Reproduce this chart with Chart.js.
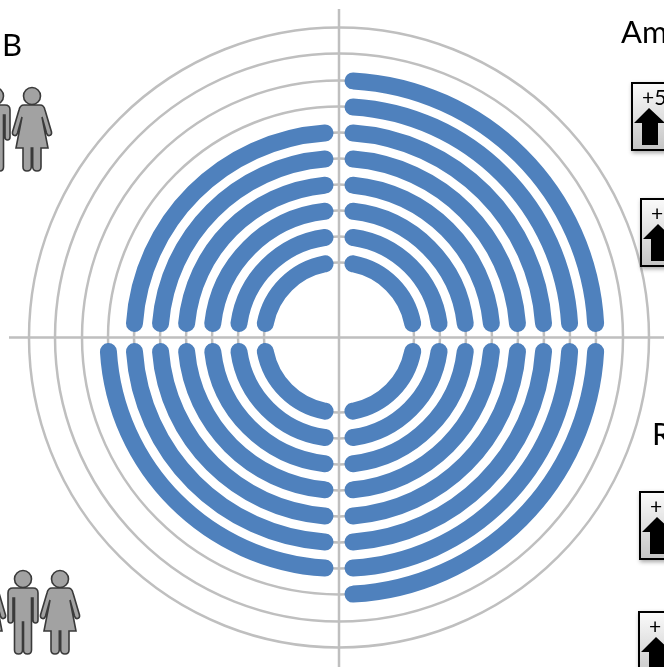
<!DOCTYPE html>
<html>
<head>
<meta charset="utf-8">
<script src="https://cdn.jsdelivr.net/npm/chart.js@4"></script>
<style>
  html, body { margin: 0; padding: 0; background: #fff; overflow: hidden; }
  #wrap { position: relative; width: 664px; height: 667px; overflow: hidden; }
  canvas, svg { position: absolute; left: 0; top: 0; }
  text { font-family: Lato, sans-serif; fill: #000; }
  .label { font-size: 31px; }
  .plus { font-size: 21px; }
  .person { fill: #a2a2a2; stroke: #3a3a3a; stroke-width: 1.6; }
</style>
</head>
<body>
<div id="wrap">
  <canvas id="rings" width="664" height="667"></canvas>
  <svg width="664" height="667" viewBox="0 0 664 667">
    <defs>
      <linearGradient id="keyFill" x1="0" y1="0" x2="0" y2="1">
        <stop offset="0" stop-color="#fbfbfb"/>
        <stop offset="1" stop-color="#c4c4c4"/>
      </linearGradient>
      <filter id="keyShadow" x="-20%" y="-20%" width="140%" height="140%">
        <feDropShadow dx="1" dy="2" stdDeviation="2" flood-color="#000" flood-opacity="0.35"/>
      </filter>
      <g id="man" class="person">
        <circle cx="0" cy="9" r="8.5"/>
        <path d="M-10 18 H10 Q15 18 15 23 V50 Q15 53 12.5 53 Q10 53 10 50 V28 L8.5 28 V80 Q8.5 84 4.5 84 Q0.5 84 0.5 80 V52 H-0.5 V80 Q-0.5 84 -4.5 84 Q-8.5 84 -8.5 80 V28 L-10 28 V50 Q-10 53 -12.5 53 Q-15 53 -15 50 V23 Q-15 18 -10 18Z"/>
      </g>
      <g id="woman" class="person">
        <circle cx="0" cy="9" r="8.5"/>
        <path d="M-8 18 H8 Q12 18 13 23 L19.5 45 Q20 48 17.5 48.5 Q15.5 49 14.5 46 L10 30 L16 61 H9 V80 Q9 84 5 84 Q1 84 0.7 80 V61 H-0.7 V80 Q-1 84 -5 84 Q-9 84 -9 80 V61 H-16 L-10 30 L-14.5 46 Q-15.5 49 -17.5 48.5 Q-20 48 -19.5 45 L-13 23 Q-12 18 -8 18Z"/>
      </g>
      <g id="key">
        <rect x="1" y="1" width="70" height="67" fill="url(#keyFill)" stroke="#000" stroke-width="2" filter="url(#keyShadow)"/>
        <path d="M18 26 L34 41 H27 V63 H11 V41 H3 Z" fill="#000"/>
      </g>
    </defs>

    <text class="label" x="2" y="56">B</text>
    <text class="label" x="621" y="43">Am</text>
    <text class="label" x="652" y="445">R</text>

    <use href="#man" x="-5" y="87"/>
    <use href="#woman" x="32" y="87"/>
    <use href="#woman" x="-14" y="570"/>
    <use href="#man" x="23" y="570"/>
    <use href="#woman" x="60" y="570"/>

    <use href="#key" x="631" y="82"/>
    <text class="plus" x="642" y="105">+5</text>
    <use href="#key" x="640" y="198"/>
    <text class="plus" x="651" y="221">+</text>
    <use href="#key" x="639" y="491"/>
    <text class="plus" x="650" y="514">+</text>
    <use href="#key" x="638" y="611"/>
    <text class="plus" x="649" y="634">+</text>
  </svg>
</div>

<script>
console.log('main loaded');

// ring radii in px, outer ring first
const ringRadius = [310, 284, 257, 231, 205, 179, 153, 127, 101, 75];
const ringWidth = 17;

// gap between the axis and the tip of an arc, in degrees (bigger on small rings)
const axisGap = [1.02, 1.11, 1.23, 1.37, 1.54, 1.77, 2.07, 2.48, 3.12, 4.2];

// arc length in degrees per quadrant, outer ring first, 0 = no arc on that ring
const topRight =    [0, 0, 87.54, 87.26, 86.92, 86.46, 85.86, 85.04, 83.76, 81.6];
const bottomRight = [0, 0, 87.54, 87.26, 86.92, 86.46, 85.86, 85.04, 83.76, 81.6];
const bottomLeft =  [0, 0, 0, 87.26, 86.92, 86.46, 85.86, 85.04, 83.76, 81.6];
const topLeft =     [0, 0, 0, 0, 86.92, 86.46, 85.86, 85.04, 83.76, 81.6];

const blue = '#4f81bd';
const grey = '#bfbfbf';
const none = 'rgba(0,0,0,0)';

const datasets = [];
ringRadius.forEach(function(radius, i) {
    const data = [];
    const colors = [];
    // clockwise from 12 o'clock
    [topRight, bottomRight, bottomLeft, topLeft].forEach(function(quadrant) {
        const arc = quadrant[i];
        data.push(axisGap[i], arc, 90 - axisGap[i] - arc);
        colors.push(none, arc > 0 ? blue : none, none);
    });
    datasets.push({ data: data, backgroundColor: colors, weight: ringWidth, borderWidth: 0, borderRadius: ringWidth / 2, isRing: true });

    // empty band up to the next ring
    if (i < ringRadius.length - 1) {
        datasets.push({ data: [1], backgroundColor: [none], weight: radius - ringRadius[i + 1] - ringWidth, borderWidth: 0 });
    }
});

// the grey circles and the cross sit behind the arcs
const gridPlugin = {
    id: 'grid',
    beforeDatasetsDraw: function(chart) {
        const ctx = chart.ctx;
        const first = chart.getDatasetMeta(0).data[0];
        ctx.save();
        ctx.strokeStyle = grey;
        ctx.lineWidth = 2.5;
        chart.data.datasets.forEach(function(ds, i) {
            if (!ds.isRing) return;
            const arc = chart.getDatasetMeta(i).data[0];
            ctx.beginPath();
            ctx.arc(arc.x, arc.y, (arc.innerRadius + arc.outerRadius) / 2, 0, Math.PI * 2);
            ctx.stroke();
        });
        ctx.beginPath();
        ctx.moveTo(9, first.y);
        ctx.lineTo(chart.width, first.y);
        ctx.moveTo(first.x, 9);
        ctx.lineTo(first.x, chart.height);
        ctx.stroke();
        ctx.restore();
    }
};

new Chart(document.querySelector('#rings'), {
    type: 'doughnut',
    data: { datasets: datasets },
    plugins: [gridPlugin],
    options: {
      responsive: false,
      animation: false,
      cutout: ringRadius[ringRadius.length - 1] - ringWidth / 2,
      layout: { padding: { left: 20.5, right: 6.5, top: 19, bottom: 11 } },
      plugins: { legend: { display: false }, tooltip: { enabled: false } },
      events: []
    }
});
</script>
</body>
</html>
